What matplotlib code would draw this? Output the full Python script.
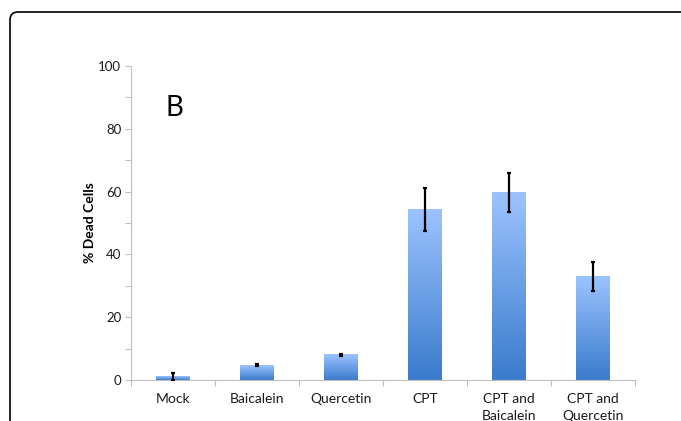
import matplotlib
matplotlib.use("Agg")
import matplotlib.pyplot as plt
import numpy as np
from matplotlib.patches import FancyBboxPatch
from matplotlib.colors import LinearSegmentedColormap
from matplotlib.ticker import MultipleLocator, FixedLocator, NullFormatter

plt.rcParams['font.family'] = ['Lato', 'DejaVu Sans']

# treatment groups and % dead cells (mean, SD)
groups = ['Mock', 'Baicalein', 'Quercetin', 'CPT', 'CPT and\nBaicalein', 'CPT and\nQuercetin']
dead_pct = [1.2, 4.7, 8.0, 54.4, 59.7, 32.9]
dead_sd = [1.1, 0.3, 0.3, 6.8, 6.1, 4.6]

fig = plt.figure(figsize=(6.81, 4.21), dpi=100)
ax = fig.add_axes([0.1924, 0.0974, 0.7401, 0.7458])

x = np.arange(len(groups))
bars = ax.bar(x, dead_pct, width=0.4, color='none', edgecolor='none', zorder=2)

# vertical gradient fill for each bar
grad_cmap = LinearSegmentedColormap.from_list('barblue', ['#3a7bcc', '#9cc3ff'])
grad = np.linspace(0, 1, 256).reshape(-1, 1)
for b in bars:
    x0, w, h = b.get_x(), b.get_width(), b.get_height()
    ax.imshow(grad, cmap=grad_cmap, origin='lower', aspect='auto',
              extent=(x0, x0 + w, 0, h), zorder=2, interpolation='bilinear')

ax.errorbar(x, dead_pct, yerr=dead_sd, fmt='none', ecolor='black',
            elinewidth=1.6, capsize=1.5, capthick=1.6, zorder=3)

ax.set_xlim(-0.5, len(groups) - 0.5)
ax.set_ylim(0, 100)

ax.yaxis.set_major_locator(MultipleLocator(20))
ax.yaxis.set_minor_locator(MultipleLocator(10))
ax.tick_params(axis='y', which='both', length=4, color='#bfbfbf', width=0.8,
               labelsize=9.5, pad=3, labelcolor='#1a1a1a')

ax.set_xticks(x)
ax.set_xticklabels(groups, linespacing=1.45)
ax.xaxis.set_minor_locator(FixedLocator(np.arange(-0.5, len(groups), 1.0)))
ax.xaxis.set_minor_formatter(NullFormatter())
ax.tick_params(axis='x', which='major', length=0, labelsize=10, pad=9.5,
               labelcolor='#1a1a1a')
ax.tick_params(axis='x', which='minor', length=4, color='#bfbfbf', width=0.8)

for side in ('top', 'right'):
    ax.spines[side].set_visible(False)
for side in ('left', 'bottom'):
    ax.spines[side].set_color('#bfbfbf')
    ax.spines[side].set_linewidth(0.8)

ax.set_ylabel('% Dead Cells', fontsize=10, fontweight='bold', labelpad=2)
ax.text(0.087, 0.866, 'B', transform=ax.transAxes, fontsize=20, va='center',
        ha='center', color='black')

# rounded panel frame
frame = FancyBboxPatch((0.10, -1.0), 8.0, 5.09, boxstyle='round,pad=0,rounding_size=0.08',
                       transform=fig.dpi_scale_trans, facecolor='none',
                       edgecolor='black', linewidth=1.2)
fig.patches.append(frame)

fig.savefig('out.png', dpi=100)
